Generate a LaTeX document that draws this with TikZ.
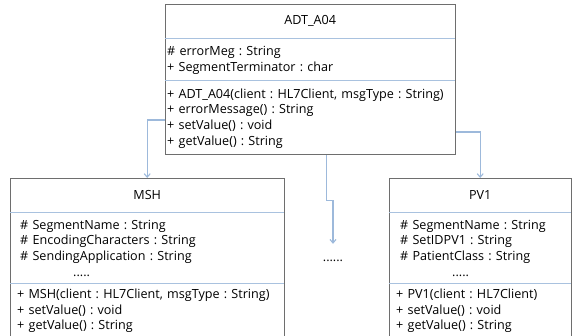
\documentclass[tikz,border=0pt]{standalone}
\usepackage{fontspec}
\setmainfont{Open Sans}
\usetikzlibrary{arrows.meta}
\usetikzlibrary{positioning}

\definecolor{boxgray}{HTML}{6E6E6E}
\definecolor{sepblue}{HTML}{A9C2DF}
\definecolor{linkblue}{HTML}{9DB9DB}

\begin{document}
\frenchspacing
\begin{tikzpicture}[x=1pt,y=1pt,>={Straight Barb[length=3.5pt,width=6pt]},
        font=\fontsize{12.6}{15.6}\selectfont,
        title/.style={anchor=north west,minimum height=34pt,inner sep=0pt},
        part/.style={align=left,inner ysep=0pt},
        ops/.style={align=left,inner sep=0pt,text width=280pt},
        frame/.style={draw=boxgray,line width=0.9pt},
        sep/.style={draw=sepblue,line width=0.9pt},
        inherit/.style={->,draw=linkblue,line width=1.1pt}]

    \useasboundingbox (0,0) rectangle (573,-335);
    \clip (0,0) rectangle (573,-335);

    % ADT_A04 class
    \node[title,minimum width=290pt] (adt) at (165,-4) {ADT\_A04};
    \node[part,text width=286pt,inner xsep=2pt,minimum height=40pt,below=2pt of adt] (adtattr)
        {\# errorMeg : String\\+ SegmentTerminator : char};
    \node[part,text width=286pt,inner xsep=2pt,minimum height=71pt,below=2pt of adtattr] (adtops)
        {+ ADT\_A04(client : HL7Client, msgType : String)\\+ errorMessage() : String\\+ setValue() : void\\+ getValue() : String};

    % MSH segment
    \node[title,minimum width=274pt] (msh) at (10,-178) {MSH};
    \node[part,text width=254pt,inner xsep=10pt,minimum height=71pt,below=0pt of msh] (mshattr)
        {\# SegmentName : String\\\# EncodingCharacters : String\\\# SendingApplication : String\\\hspace*{53pt}.....};
    \node[ops,below right=5pt and 7pt of mshattr.south west] (mshops)
        {+ MSH(client : HL7Client, msgType : String)\\+ setValue() : void\\+ getValue() : String};

    % PV1 segment
    \node[title,minimum width=182pt] (pv1) at (389,-178) {PV1};
    \node[part,text width=160pt,inner xsep=11pt,minimum height=71pt,below=0pt of pv1] (pv1attr)
        {\# SegmentName : String\\\# SetIDPV1 : String\\\# PatientClass : String\\\hspace*{52pt}.....};
    \node[ops,below right=5pt and 7pt of pv1attr.south west] (pv1ops)
        {+ PV1(client : HL7Client)\\+ setValue() : void\\+ getValue() : String};

    % other segments
    \node[anchor=base,text height=14pt,inner sep=3pt] (more) at (333,-261) {......};

    % links from the message to its segments
    \draw[inherit] ([yshift=-1.5pt]adtops.west) -| (msh.north);
    \draw[inherit] ([yshift=-13.5pt]adtops.east) -| (pv1.north);
    \draw[inherit] ([xshift=16pt]adtops.south) -- ++(0,-46) -| (more.north);

    % class frames and compartments
    \draw[frame] (adt.north west) rectangle (adtops.south east);
    \draw[sep] (adt.south west) -- (adt.south east);
    \draw[sep] (adtattr.south west) -- (adtattr.south east);

    \draw[frame] (msh.north west) rectangle ([yshift=-20pt]msh.east |- mshops.south);
    \draw[sep] (msh.south west) -- (msh.south east);
    \draw[sep] (mshattr.south west) -- (mshattr.south east);

    \draw[frame] (pv1.north west) rectangle ([yshift=-20pt]pv1.east |- pv1ops.south);
    \draw[sep] (pv1.south west) -- (pv1.south east);
    \draw[sep] (pv1attr.south west) -- (pv1attr.south east);

\end{tikzpicture}
\end{document}
